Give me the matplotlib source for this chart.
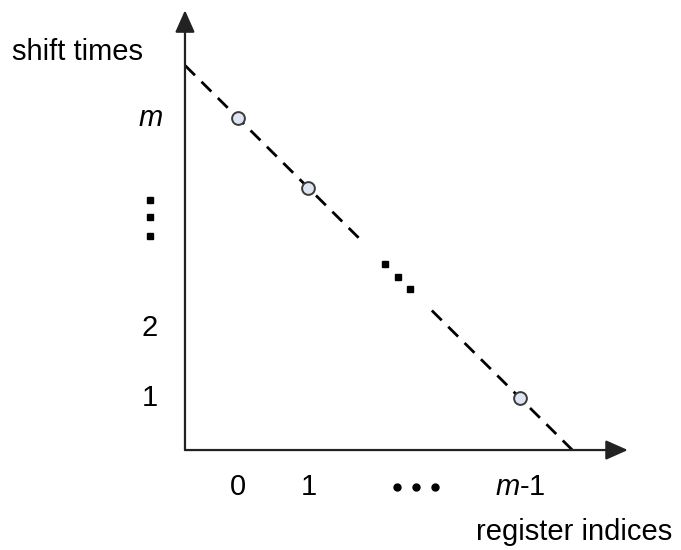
import matplotlib
matplotlib.use("Agg")
import matplotlib.pyplot as plt

plt.rcParams['font.family'] = ['Liberation Sans', 'DejaVu Sans']
plt.rcParams['mathtext.fontset'] = 'custom'
plt.rcParams['mathtext.it'] = 'Liberation Sans:italic'
plt.rcParams['mathtext.rm'] = 'Liberation Sans'

# ---- data ----
reg_idx = [0, 1, 4]            # register indices 0, 1, m-1 (m = 5)
shift_times = [5, 4, 1]        # shift times m, m-1, ..., 1
line1_x = [-0.75, 1.80]
line1_y = [5.75, 3.20]
line2_x = [2.75, 4.74]
line2_y = [2.25, 0.26]
diag_dots_x = [2.085, 2.27, 2.44]
diag_dots_y = [2.92, 2.73, 2.56]
xtick_pos = [0, 1, 4]
xtick_labels = ["0", "1", r"$\it{m}$-1"]
xdots_x = [2.26, 2.52, 2.79]
ytick_pos = [1, 2, 5]
ytick_labels = ["1", "2", r"$\it{m}$"]
ydots_y = [3.83, 3.586, 3.314]
origin = (-0.752, 0.257)
x_tip = 5.53
y_tip = 6.54

fig = plt.figure(figsize=(6.81, 5.5), dpi=100)
ax = fig.add_axes([0, 0, 1, 1])
ax.set_xlim(-3.376, 6.284)
ax.set_ylim(-1.171, 6.686)
ax.axis('off')

# axes with arrows
arrow_kw = dict(arrowstyle="-|>,head_length=0.9,head_width=0.4", lw=1.6,
                color='#222222', shrinkA=0, shrinkB=0, mutation_scale=15)
ax.annotate("", xy=(x_tip, origin[1]), xytext=origin, arrowprops=arrow_kw)
ax.annotate("", xy=(origin[0], y_tip), xytext=origin, arrowprops=arrow_kw)

# dashed line
dash = dict(color='black', lw=2.0, linestyle=(0, (5, 3.3)), solid_capstyle='butt')
ax.plot(line1_x, line1_y, **dash)
ax.plot(line2_x, line2_y, **dash)
ax.plot(diag_dots_x, diag_dots_y, 's', color='black', ms=4.8, lw=0)

# points
ax.plot(reg_idx, shift_times, 'o', ms=9.2, mfc='#dde5f2', mec='#3a3a3a', mew=1.4, zorder=5)

fs = 21
# x tick labels
for p, lab in zip(xtick_pos, xtick_labels):
    ax.text(p, -0.271, lab, ha='center', va='center', fontsize=fs)
ax.plot(xdots_x, [-0.27] * 3, 'o', color='black', ms=5, lw=0)

# y tick labels
for p, lab in zip(ytick_pos, ytick_labels):
    ax.text(-1.248, p, lab, ha='center', va='center', fontsize=fs)
ax.plot([-1.248] * 3, ydots_y, 's', color='black', ms=4.8, lw=0)

ax.text(-3.206, 5.83, "shift times", ha='left', va='baseline', fontsize=fs)
ax.text(4.766, -1.03, "register indices", ha='center', va='baseline', fontsize=fs)

fig.savefig("out.png", dpi=100)
